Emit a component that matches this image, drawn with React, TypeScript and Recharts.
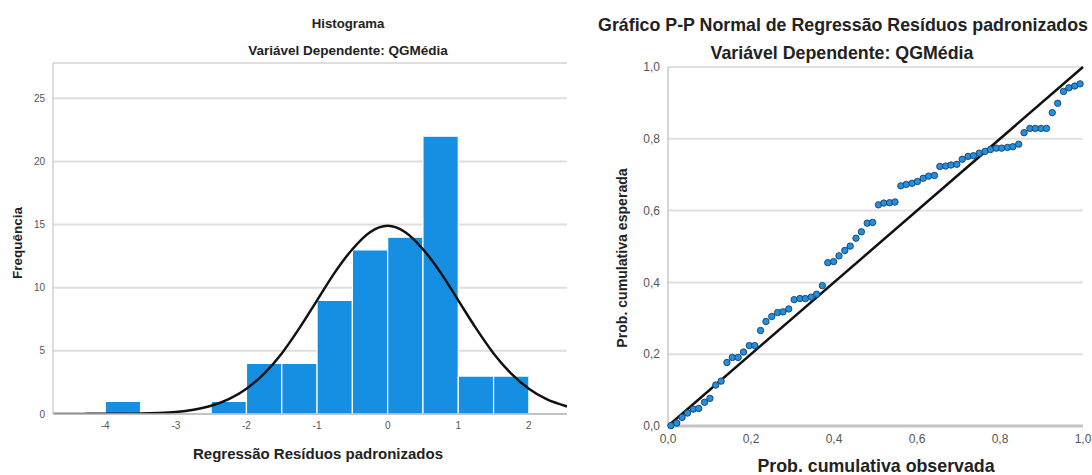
import React from "react";
import {
  ComposedChart,
  ScatterChart,
  Scatter,
  Line,
  XAxis,
  YAxis,
  CartesianGrid,
  ReferenceArea,
  ReferenceLine,
} from "recharts";

// histogram bins (lower / upper edge) and frequencies
const binFrom = [-4, -2.5, -2, -1.5, -1, -0.5, 0, 0.5, 1, 1.5];
const binTo = [-3.5, -2, -1.5, -1, -0.5, 0, 0.5, 1, 1.5, 2];
const binCount = [1, 1, 4, 4, 9, 13, 14, 22, 3, 3];

// normal curve
const curveX = [
  -4.74, -4.5, -4.25, -4, -3.75, -3.5, -3.25, -3, -2.75, -2.5, -2.25, -2, -1.75, -1.5, -1.25,
  -1, -0.75, -0.5, -0.25, 0, 0.25, 0.5, 0.75, 1, 1.25, 1.5, 1.75, 2, 2.25, 2.54,
];
const curveY = [
  0, 0, 0.01, 0.01, 0.02, 0.03, 0.07, 0.16, 0.34, 0.65, 1.17, 2.0, 3.2, 4.8, 6.8,
  9.0, 11.2, 13.05, 14.4, 14.9, 14.4, 13.05, 11.2, 9.0, 6.8, 4.8, 3.2, 2.0, 1.17, 0.6,
];
const histXTicks = [-4, -3, -2, -1, 0, 1, 2];
const histYTicks = [0, 5, 10, 15, 20, 25];

// P-P plot: observed vs expected cumulative probability
const ppObserved = [
  0.007, 0.021, 0.034, 0.047, 0.061, 0.074, 0.088, 0.101, 0.115, 0.128,
  0.142, 0.155, 0.169, 0.182, 0.196, 0.209, 0.223, 0.236, 0.25, 0.264,
  0.277, 0.291, 0.304, 0.318, 0.331, 0.345, 0.358, 0.372, 0.385, 0.399,
  0.412, 0.426, 0.439, 0.453, 0.466, 0.48, 0.493, 0.507, 0.52, 0.534,
  0.547, 0.561, 0.574, 0.588, 0.601, 0.615, 0.628, 0.642, 0.655, 0.669,
  0.682, 0.696, 0.709, 0.723, 0.736, 0.75, 0.764, 0.777, 0.791, 0.804,
  0.818, 0.831, 0.845, 0.858, 0.872, 0.885, 0.899, 0.912, 0.926, 0.939,
  0.953, 0.966, 0.98, 0.993,
];
const ppExpected = [
  0.001, 0.008, 0.024, 0.036, 0.047, 0.049, 0.066, 0.077, 0.114, 0.125,
  0.177, 0.191, 0.191, 0.206, 0.224, 0.224, 0.266, 0.291, 0.305, 0.316,
  0.318, 0.326, 0.352, 0.355, 0.355, 0.359, 0.367, 0.391, 0.455, 0.458,
  0.474, 0.489, 0.501, 0.523, 0.541, 0.565, 0.567, 0.616, 0.621, 0.622,
  0.624, 0.669, 0.673, 0.676, 0.681, 0.69, 0.696, 0.698, 0.723, 0.724,
  0.727, 0.729, 0.743, 0.751, 0.753, 0.76, 0.765, 0.77, 0.774, 0.774,
  0.776, 0.778, 0.785, 0.817, 0.829, 0.829, 0.829, 0.829, 0.873, 0.899,
  0.932, 0.942, 0.947, 0.953,
];
const ppTicks = [0, 0.2, 0.4, 0.6, 0.8, 1];
const diag = [0, 1];

const curveData = curveX.map((x, i) => ({ x, y: curveY[i] }));
const ppData = ppObserved.map((x, i) => ({ x, y: ppExpected[i] }));

const FONT = '"Liberation Sans", Arial, sans-serif';
const BLUE = "#168fe3";

function Txt({ x, y, size, rotate, bold = true, children }: any) {
  return (
    <div
      style={{
        position: "absolute",
        left: x,
        top: y,
        transform: `translate(-50%, -50%)${rotate ? ` rotate(${rotate}deg)` : ""}`,
        fontFamily: FONT,
        fontSize: size,
        fontWeight: bold ? 700 : 400,
        color: "#222",
        whiteSpace: "nowrap",
      }}
    >
      {children}
    </div>
  );
}

const comma = (v: number) => v.toFixed(1).replace(".", ",");

function Dot(props: any) {
  const { cx, cy } = props;
  return <circle cx={cx} cy={cy} r={3.2} fill="#1f90e2" stroke="#1c3d5e" strokeWidth={0.9} />;
}

export default function App() {
  return (
    <div style={{ position: "fixed", left: 0, top: 0, width: 1092, height: 475, background: "#fff", overflow: "hidden" }}>
      {/* histogram */}
      <div style={{ position: "absolute", left: 0, top: 0 }}>
        <ComposedChart width={580} height={475} data={curveData} margin={{ top: 63, right: 13, bottom: 41, left: 0 }}>
          <CartesianGrid vertical={false} stroke="#dedede" strokeWidth={2} />
          <XAxis
            type="number"
            dataKey="x"
            domain={[-4.74, 2.54]}
            allowDataOverflow
            ticks={histXTicks}
            tickLine={false}
            height={20}
            axisLine={{ stroke: "#b8b8b8", strokeWidth: 1.5 }}
            tick={{ fontSize: 10, fill: "#555", fontFamily: FONT }}
          />
          <YAxis
            type="number"
            domain={[0, 27.8]}
            allowDataOverflow
            ticks={histYTicks}
            tickLine={false}
            width={53}
            axisLine={{ stroke: "#d2d2d2", strokeWidth: 1.5 }}
            tick={{ fontSize: 10, fill: "#555", fontFamily: FONT }}
          />
          {binCount.map((c, i) => (
            <ReferenceArea
              key={i}
              x1={binFrom[i]}
              x2={binTo[i]}
              y1={0}
              y2={c}
              fill={BLUE}
              fillOpacity={1}
              stroke="#ffffff"
              strokeWidth={1.2}
            />
          ))}
          <Line
            type="monotone"
            dataKey="y"
            stroke="#111"
            strokeWidth={2.5}
            dot={false}
            isAnimationActive={false}
          />
        </ComposedChart>
      </div>
      <Txt x={348} y={23} size={13.2}>Histograma</Txt>
      <Txt x={348} y={50} size={13.5}>Variável Dependente: QGMédia</Txt>
      <Txt x={17} y={243} size={13.5} rotate={-90}>Frequência</Txt>
      <Txt x={318} y={453} size={15}>Regressão Resíduos padronizados</Txt>

      {/* P-P plot */}
      <div style={{ position: "absolute", left: 590, top: 0 }}>
        <ScatterChart width={502} height={475} margin={{ top: 67, right: 9, bottom: 29, left: 0 }}>
          <CartesianGrid vertical={false} stroke="#e0e0e0" strokeWidth={2} />
          <XAxis
            type="number"
            dataKey="x"
            domain={[0, 1]}
            ticks={ppTicks}
            tickFormatter={comma}
            tickLine={false}
            height={20}
            axisLine={{ stroke: "#c4c4c4", strokeWidth: 3 }}
            tick={{ fontSize: 12, fill: "#555", fontFamily: FONT }}
          />
          <YAxis
            type="number"
            dataKey="y"
            domain={[0, 1]}
            ticks={ppTicks}
            tickFormatter={comma}
            tickLine={false}
            width={78}
            axisLine={{ stroke: "#c8c8c8", strokeWidth: 1.5 }}
            tick={{ fontSize: 12, fill: "#555", fontFamily: FONT }}
          />
          <ReferenceLine
            segment={[
              { x: diag[0], y: diag[0] },
              { x: diag[1], y: diag[1] },
            ]}
            stroke="#111"
            strokeWidth={2.5}
          />
          <Scatter data={ppData} shape={<Dot />} isAnimationActive={false} />
        </ScatterChart>
      </div>
      <Txt x={843} y={25} size={17.8}>Gráfico P-P Normal de Regressão Resíduos padronizados</Txt>
      <Txt x={842} y={53} size={17.8}>Variável Dependente: QGMédia</Txt>
      <Txt x={622} y={258} size={14.1} rotate={-90}>Prob. cumulativa esperada</Txt>
      <Txt x={876} y={466} size={17.8}>Prob. cumulativa observada</Txt>
    </div>
  );
}
